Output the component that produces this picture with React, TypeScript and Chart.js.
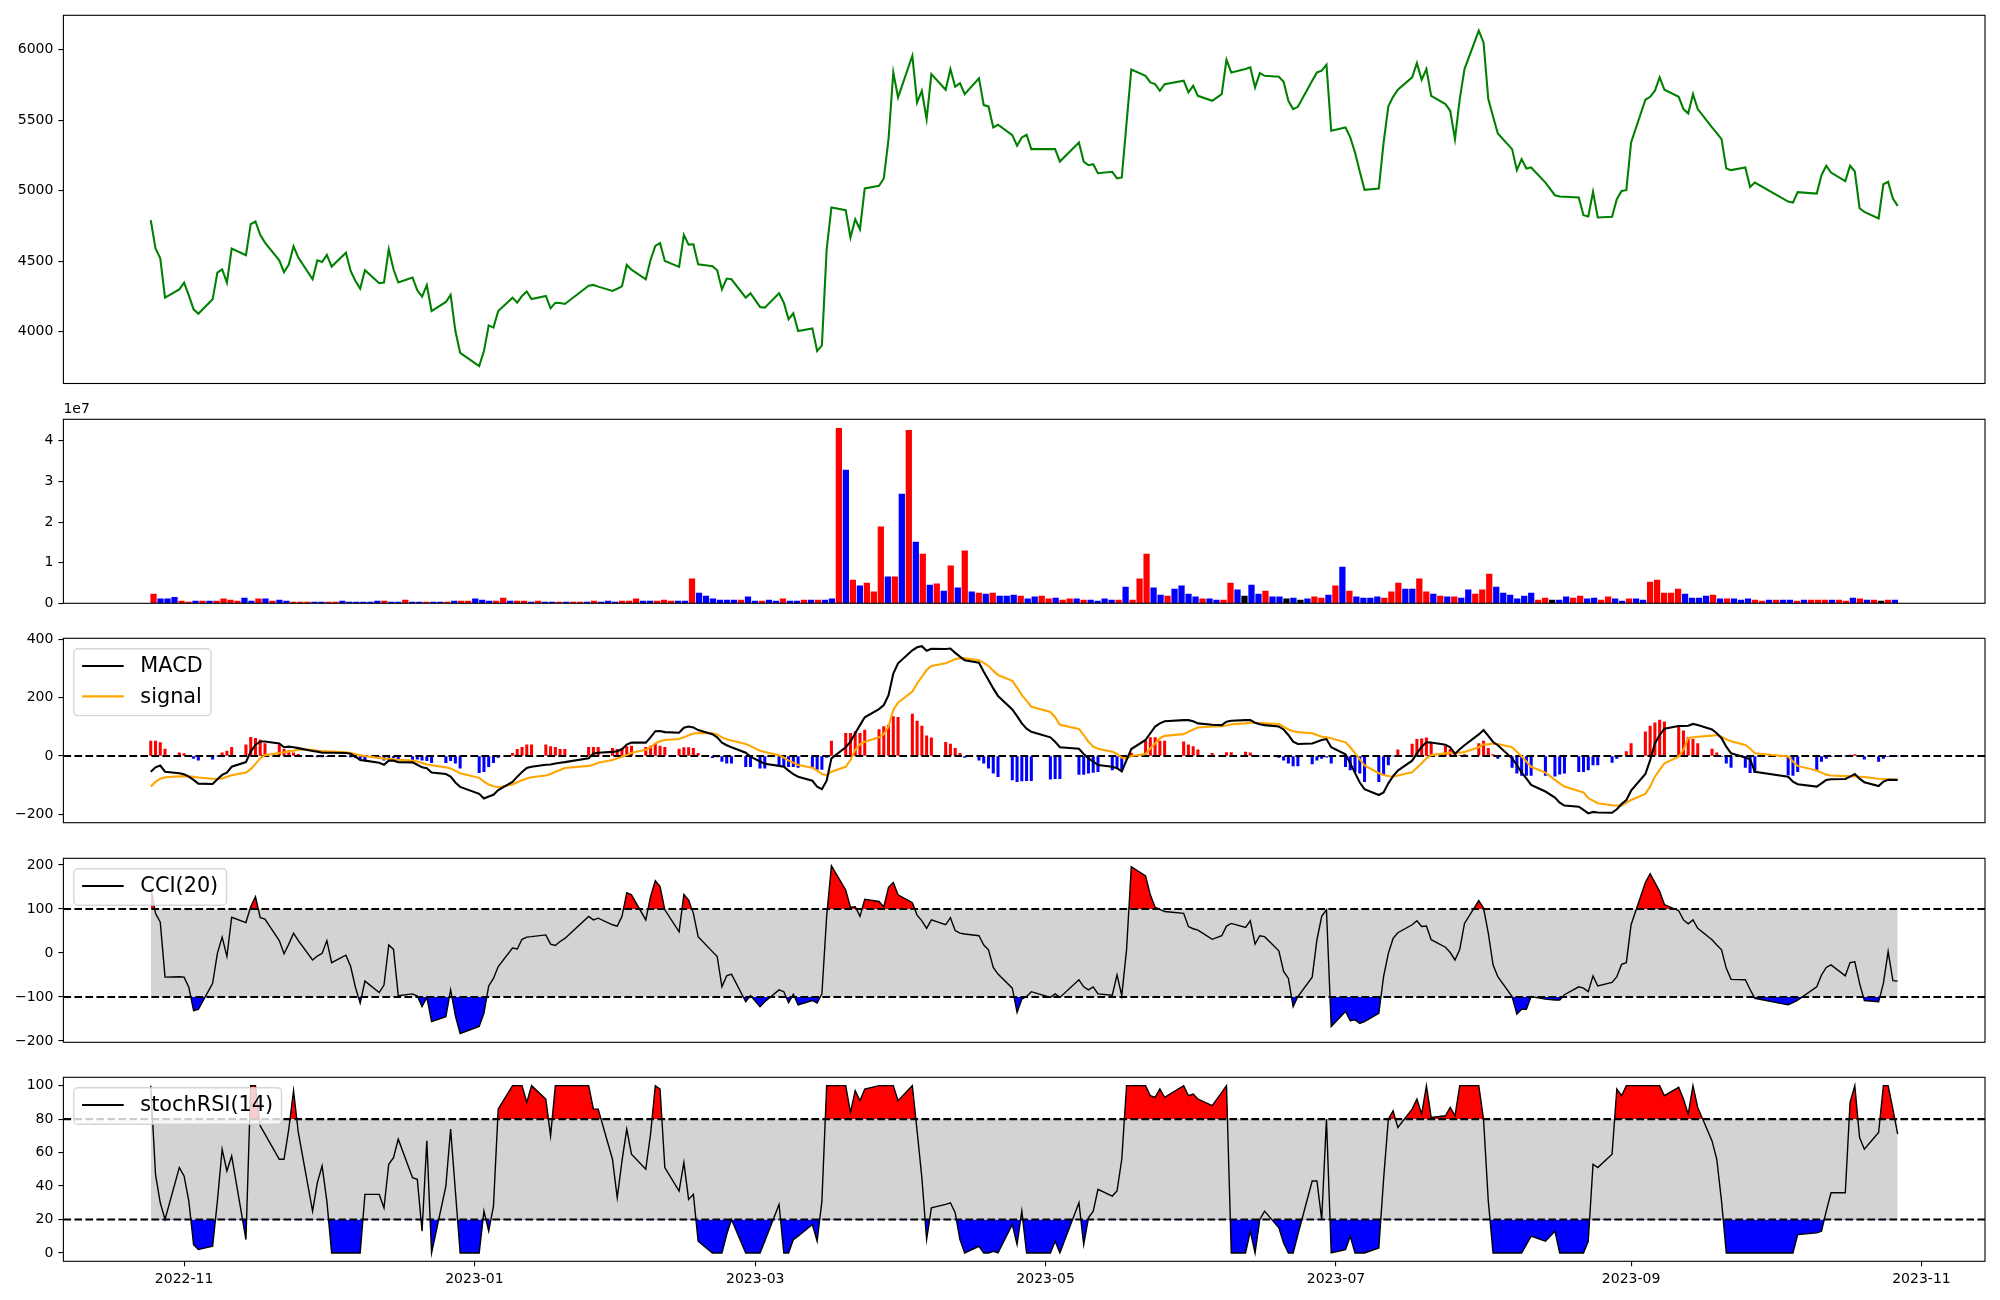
import React, { useEffect, useRef } from "react";
import { Chart, registerables } from "chart.js";

Chart.register(...registerables);

const FONT = "'DejaVu Sans', 'Liberation Sans', sans-serif";

// ---------------- DATA ----------------
const tradingDates: string[] = [
  "2022-10-25","2022-10-26","2022-10-27","2022-10-28","2022-10-31",
  "2022-11-01","2022-11-02","2022-11-03","2022-11-04","2022-11-07","2022-11-08","2022-11-09","2022-11-10","2022-11-11",
  "2022-11-14","2022-11-15","2022-11-16","2022-11-17","2022-11-18","2022-11-21","2022-11-22","2022-11-23","2022-11-24",
  "2022-11-25","2022-11-28","2022-11-29","2022-11-30",
  "2022-12-01","2022-12-02","2022-12-05","2022-12-06","2022-12-07","2022-12-08","2022-12-09","2022-12-12","2022-12-13",
  "2022-12-14","2022-12-15","2022-12-16","2022-12-19","2022-12-20","2022-12-21","2022-12-22","2022-12-23","2022-12-26",
  "2022-12-27","2022-12-28","2022-12-29",
  "2023-01-02","2023-01-03","2023-01-04","2023-01-05","2023-01-06","2023-01-09","2023-01-10","2023-01-11","2023-01-12",
  "2023-01-13","2023-01-16","2023-01-17","2023-01-18","2023-01-19","2023-01-20","2023-01-25","2023-01-26","2023-01-27",
  "2023-01-30","2023-01-31",
  "2023-02-01","2023-02-02","2023-02-03","2023-02-06","2023-02-07","2023-02-08","2023-02-09","2023-02-10","2023-02-13",
  "2023-02-14","2023-02-15","2023-02-16","2023-02-17","2023-02-20","2023-02-21","2023-02-22","2023-02-23","2023-02-24",
  "2023-02-27","2023-02-28",
  "2023-03-02","2023-03-03","2023-03-06","2023-03-07","2023-03-08","2023-03-09","2023-03-10","2023-03-13","2023-03-14",
  "2023-03-15","2023-03-16","2023-03-17","2023-03-20","2023-03-21","2023-03-22","2023-03-23","2023-03-24","2023-03-27",
  "2023-03-28","2023-03-29","2023-03-30","2023-03-31",
  "2023-04-03","2023-04-04","2023-04-05","2023-04-06","2023-04-07","2023-04-10","2023-04-11","2023-04-12","2023-04-13",
  "2023-04-14","2023-04-17","2023-04-18","2023-04-19","2023-04-20","2023-04-21","2023-04-24","2023-04-25","2023-04-26",
  "2023-04-27","2023-04-28",
  "2023-05-02","2023-05-03","2023-05-04","2023-05-08","2023-05-09","2023-05-10","2023-05-11","2023-05-12","2023-05-15",
  "2023-05-16","2023-05-17","2023-05-18","2023-05-19","2023-05-22","2023-05-23","2023-05-24","2023-05-25","2023-05-26",
  "2023-05-30","2023-05-31",
  "2023-06-01","2023-06-02","2023-06-05","2023-06-07","2023-06-08","2023-06-09","2023-06-12","2023-06-13","2023-06-14",
  "2023-06-15","2023-06-16","2023-06-19","2023-06-20","2023-06-21","2023-06-22","2023-06-23","2023-06-26","2023-06-27",
  "2023-06-28","2023-06-29","2023-06-30",
  "2023-07-03","2023-07-04","2023-07-05","2023-07-06","2023-07-07","2023-07-10","2023-07-11","2023-07-12","2023-07-13",
  "2023-07-14","2023-07-17","2023-07-18","2023-07-19","2023-07-20","2023-07-21","2023-07-24","2023-07-25","2023-07-26",
  "2023-07-27","2023-07-28","2023-07-31",
  "2023-08-01","2023-08-02","2023-08-03","2023-08-04","2023-08-07","2023-08-08","2023-08-09","2023-08-10","2023-08-11",
  "2023-08-14","2023-08-16","2023-08-17","2023-08-18","2023-08-21","2023-08-22","2023-08-23","2023-08-24","2023-08-25",
  "2023-08-28","2023-08-29","2023-08-30","2023-08-31",
  "2023-09-01","2023-09-04","2023-09-05","2023-09-06","2023-09-07","2023-09-08","2023-09-11","2023-09-12","2023-09-13",
  "2023-09-14","2023-09-15","2023-09-18","2023-09-19","2023-09-20","2023-09-21","2023-09-22","2023-09-25","2023-09-26",
  "2023-09-27",
  "2023-10-04","2023-10-05","2023-10-06","2023-10-10","2023-10-11","2023-10-12","2023-10-13","2023-10-16","2023-10-17",
  "2023-10-18","2023-10-19","2023-10-20","2023-10-23","2023-10-24","2023-10-25","2023-10-26","2023-10-27",
];

const closePrice: number[] = [
  4791, 4590, 4521, 4242, 4300, 4348, 4258, 4159, 4128, 4230,
  4420, 4443, 4348, 4590, 4542, 4763, 4782, 4687, 4632, 4507,
  4422, 4476, 4606, 4526, 4372, 4507, 4495, 4545, 4462, 4561,
  4431, 4360, 4306, 4436, 4344, 4349, 4585, 4443, 4349, 4384,
  4294, 4249, 4330, 4147, 4211, 4261, 4005, 3851, 3757, 3863,
  4045, 4029, 4147, 4242, 4206, 4254, 4285, 4232, 4254, 4166,
  4206, 4204, 4197, 4327, 4332, 4320, 4289, 4305, 4322, 4474,
  4440, 4372, 4509, 4609, 4628, 4502, 4460, 4687, 4618, 4620,
  4478, 4464, 4436, 4301, 4377, 4372, 4242, 4273, 4176, 4171,
  4273, 4206, 4088, 4131, 4005, 4024, 3863, 3903, 4585, 4881,
  4862, 4668, 4798, 4727, 5016, 5035, 5087, 5366, 5839, 5662,
  5957, 5626, 5709, 5508, 5827, 5716, 5863, 5737, 5763, 5685,
  5797, 5607, 5598, 5449, 5468, 5394, 5319, 5378, 5397, 5295,
  5295, 5295, 5207, 5342, 5207, 5181, 5188, 5124, 5134, 5087,
  5094, 5480, 5860, 5815, 5768, 5756, 5709, 5756, 5780, 5697,
  5744, 5673, 5638, 5685, 5929, 5839, 5863, 5875, 5733, 5834,
  5815, 5808, 5773, 5638, 5579, 5595, 5780, 5839, 5851, 5894,
  5425, 5449, 5378, 5271, 5136, 5006, 5016, 5340, 5598, 5666,
  5716, 5804, 5905, 5787, 5863, 5673, 5614, 5567, 5366, 5650,
  5863, 6135, 6052, 5650, 5527, 5406, 5295, 5146, 5224, 5158,
  5165, 5058, 4968, 4959, 4957, 4952, 4826, 4817, 4992, 4810,
  4815, 4940, 4999, 5004, 5342, 5645, 5666, 5709, 5804, 5716,
  5666, 5579, 5548, 5685, 5579, 5449, 5408, 5366, 5158, 5146,
  5165, 5027, 5058, 4923, 4916, 4990, 4980, 5110, 5177, 5129,
  5068, 5177, 5136, 4876, 4850, 4803, 5046, 5063, 4945, 4893,
];

// volume in millions of shares
const volumeMillions: number[] = [
  2.3, 1.07, 1.07, 1.5, 0.57, 0.33, 0.57, 0.57, 0.57, 0.57,
  1.07, 0.8, 0.57, 1.3, 0.57, 1.07, 1.07, 0.57, 0.8, 0.57,
  0.33, 0.33, 0.33, 0.33, 0.33, 0.33, 0.33, 0.57, 0.33, 0.33,
  0.33, 0.33, 0.57, 0.57, 0.33, 0.33, 0.8, 0.33, 0.33, 0.33,
  0.33, 0.33, 0.33, 0.57, 0.57, 0.57, 1.07, 0.8, 0.57, 0.57,
  1.3, 0.57, 0.57, 0.57, 0.33, 0.57, 0.33, 0.33, 0.33, 0.33,
  0.33, 0.33, 0.33, 0.57, 0.33, 0.57, 0.33, 0.57, 0.57, 1.07,
  0.57, 0.57, 0.57, 0.8, 0.57, 0.57, 0.57, 6.0, 2.5, 1.8,
  1.07, 0.8, 0.8, 0.8, 0.8, 1.6, 0.57, 0.57, 0.8, 0.57,
  1.07, 0.57, 0.57, 0.8, 0.8, 0.8, 0.8, 1.07, 43.1, 32.8,
  5.7, 4.3, 5.0, 2.8, 18.8, 6.5, 6.5, 26.9, 42.6, 15.1,
  12.1, 4.5, 4.8, 3.0, 9.2, 3.8, 12.9, 2.8, 2.5, 2.3,
  2.5, 1.8, 1.8, 2.0, 1.8, 1.07, 1.6, 1.8, 1.07, 1.3,
  0.8, 1.07, 1.07, 0.8, 0.8, 0.57, 1.07, 0.8, 0.8, 4.0,
  0.8, 6.0, 12.1, 3.8, 2.0, 1.8, 3.5, 4.3, 2.3, 1.6,
  1.07, 1.07, 0.8, 0.8, 5.0, 3.3, 1.8, 4.5, 2.3, 3.0,
  1.6, 1.6, 1.07, 1.3, 0.8, 1.07, 1.6, 1.3, 2.0, 4.3,
  8.9, 3.0, 1.6, 1.3, 1.3, 1.6, 1.3, 2.8, 5.0, 3.5,
  3.5, 6.0, 2.8, 2.3, 1.8, 1.6, 1.6, 1.3, 3.3, 2.3,
  3.3, 7.2, 4.0, 2.5, 2.0, 1.07, 1.8, 2.5, 0.8, 1.3,
  0.8, 0.8, 1.6, 1.3, 1.8, 1.07, 1.3, 0.8, 1.6, 1.07,
  0.57, 1.07, 1.07, 0.8, 5.2, 5.7, 2.5, 2.5, 3.5, 2.3,
  1.3, 1.3, 1.8, 2.0, 1.07, 1.07, 1.07, 0.8, 1.07, 0.8,
  0.57, 0.8, 0.8, 0.8, 0.8, 0.57, 0.8, 0.8, 0.8, 0.8,
  0.8, 0.8, 0.57, 1.3, 1.07, 0.8, 0.8, 0.57, 0.8, 0.8,
];

// R = red (up), B = blue (down), K = black (unchanged)
const volumeColorCodes =
  "RBBBRRBRBR" + "RRRBBRBRBB" + "RRRBBRRBBB" + "BBBRBBRBBR" + "BBRBRRBBBR" +
  "RBRRBRBBRB" + "RRBRBBBRRR" + "BBRRRBBRBB" + "BBBBRBBRBB" + "RBBRBRBBRB" +
  "RBRRRBRBRB" + "RBRBRBRBRB" + "RBBBRBBRRB" + "RRBRBBBBRB" + "RRRBBRBBBB" +
  "RBBRRBKBBR" + "BBKBKBRRBR" + "BRBBBBRRRB" + "BRRBRBRBBR" + "RRBBBBBBRR" +
  "KBBRRBBRRB" + "BRBBRRRRRB" + "BBBRBRBBBR" + "RBRBBRBRRR" + "BRRBRBRKRB";

const macdLine: number[] = [
  -54, -39, -33, -54, -59, -63, -71, -82, -95, -96,
  -80, -65, -57, -37, -21, 15, 38, 50, 50, 43,
  30, 32, 30, 27, 17, 15, 11, 11, 11, 10,
  8, -2, -14, -16, -23, -30, -16, -16, -21, -22,
  -30, -39, -42, -57, -62, -71, -91, -106, -130, -146,
  -139, -133, -117, -89, -71, -55, -41, -37, -30, -29,
  -26, -23, -21, -8, 9, 11, 14, 16, 23, 39,
  46, 46, 64, 85, 86, 82, 80, 97, 101, 98,
  89, 75, 64, 46, 37, 30, 11, -2, -19, -27,
  -34, -37, -50, -62, -71, -85, -105, -114, -85, -8,
  30, 49, 78, 106, 133, 161, 175, 209, 283, 318,
  363, 373, 377, 361, 368, 367, 369, 354, 341, 329,
  320, 289, 261, 232, 206, 160, 137, 112, 94, 83,
  64, 49, 30, 25, 7, -8, -19, -31, -37, -42,
  -53, -14, 24, 55, 78, 101, 112, 119, 123, 123,
  119, 112, 107, 106, 118, 121, 123, 123, 114, 109,
  106, 101, 91, 72, 49, 41, 43, 49, 55, 58,
  30, 6, -25, -58, -91, -114, -134, -125, -94, -69,
  -50, -16, 9, 32, 47, 46, 39, 30, 7, 23,
  37, 74, 89, 69, 48, 37, -8, -31, -57, -77,
  -99, -122, -143, -160, -170, -174, -185, -197, -192, -194,
  -195, -183, -165, -151, -119, -62, -14, 43, 72, 94,
  103, 103, 104, 110, 106, 91, 78, 61, 32, 9,
  -5, -11, -54, -71, -88, -97, -105, -94, -82, -80,
  -79, -71, -62, -78, -90, -103, -88, -82, -82, -82,
];

const signalLine: number[] = [
  -105, -89, -78, -73, -70, -69, -70, -71, -74, -78,
  -79, -77, -71, -66, -57, -45, -27, -8, 3, 10,
  13, 15, 18, 22, 21, 18, 17, 16, 15, 13,
  10, 7, 2, 0, -7, -9, -10, -11, -13, -16,
  -19, -24, -29, -32, -39, -43, -51, -59, -75, -88,
  -98, -104, -107, -98, -90, -83, -77, -73, -67, -62,
  -54, -48, -41, -34, -30, -23, -14, -9, -3, 3,
  11, 21, 30, 43, 51, 55, 58, 64, 71, 77,
  79, 78, 74, 64, 57, 53, 41, 34, 18, 14,
  3, -6, -16, -23, -31, -40, -50, -62, -66, -54,
  -37, -14, 21, 40, 49, 64, 75, 101, 158, 183,
  221, 249, 272, 295, 309, 318, 325, 333, 335, 335,
  329, 320, 309, 293, 278, 258, 235, 209, 190, 169,
  151, 133, 107, 93, 72, 49, 32, 25, 15, 7,
  -6, -8, 0, 7, 26, 43, 61, 69, 75, 83,
  91, 98, 101, 102, 105, 109, 112, 114, 114, 113,
  112, 110, 101, 91, 85, 82, 78, 72, 66, 64,
  61, 47, 30, 10, -12, -32, -59, -65, -69, -71,
  -67, -56, -40, -25, -8, 3, 9, 11, 11, 11,
  14, 30, 40, 40, 43, 41, 30, 15, -2, -19,
  -37, -57, -82, -94, -105, -120, -125, -145, -153, -162,
  -169, -170, -171, -160, -151, -130, -105, -71, -48, -25,
  -2, 21, 61, 64, 66, 70, 72, 66, 57, 51,
  38, 26, 9, -2, -19, -34, -50, -57, -64, -67,
  -69, -69, -70, -71, -72, -78, -79, -80, -81, -82,
];

const macdHist: number[] = [
  51, 51, 46, 24, 11, 8, -2, -8, -14, -11,
  0, 11, 17, 30, 38, 64, 61, 55, 43, 38,
  23, 18, 11, 6, -2, -3, -3, -2, -2, -2,
  -3, -6, -11, -14, -8, -14, -7, -6, -9, -14,
  -11, -14, -16, -23, -23, -16, -25, -42, -57, -54,
  -37, -23, -5, 9, 23, 30, 38, 38, 38, 32,
  30, 23, 23, 30, 30, 30, 26, 23, 26, 32,
  34, 30, 34, 41, 34, 30, 24, 29, 29, 26,
  9, -6, -3, -19, -25, -25, -37, -37, -42, -42,
  -34, -37, -37, -37, -39, -39, -46, -46, -5, 51,
  78, 78, 83, 78, 89, 91, 101, 106, 135, 133,
  144, 120, 103, 69, 62, 47, 41, 26, 9, -5,
  -14, -25, -42, -59, -71, -82, -88, -86, -85, -85,
  -80, -78, -78, -63, -63, -59, -56, -54, -48, -42,
  -46, -10, 10, 51, 63, 63, 51, 51, 49, 38,
  32, 21, 9, 2, 12, 12, 13, 11, 2, 0,
  -2, -5, -14, -25, -34, -34, -27, -14, -8, -4,
  -25, -37, -48, -54, -59, -88, -88, -65, -31, 0,
  21, 41, 57, 59, 62, 43, 35, 23, 6, 2,
  5, 43, 51, 26, 5, -8, -39, -59, -67, -67,
  -67, -67, -69, -62, -59, -54, -54, -48, -31, -31,
  -22, -8, 2, 15, 43, 83, 103, 114, 123, 117,
  101, 86, 64, 57, 43, 24, 11, -2, -25, -39,
  -39, -57, -57, -65, -67, -54, -51, -19, -8, -2,
  0, 3, 5, 0, -11, -19, -8, -2, 0, 0,
];

const cci20: number[] = [
  147, 90, 70, -55, -54, -55, -78, -131, -128, -69,
  -1, 36, -8, 81, 69, 105, 128, 80, 77, 28,
  -2, 20, 45, 28, -16, -7, -1, 28, -22, -5,
  -31, -78, -114, -64, -90, -73, 18, 8, -97, -93,
  -98, -122, -101, -156, -145, -84, -143, -183, -167, -137,
  -75, -58, -31, 11, 9, 31, 36, 37, 41, 20,
  17, 26, 33, 83, 75, 79, 64, 61, 83, 137,
  132, 75, 128, 164, 151, 98, 48, 133, 120, 90,
  37, 3, -8, -77, -52, -48, -111, -97, -122, -111,
  -84, -88, -113, -94, -118, -108, -114, -93, 83, 198,
  143, 104, 105, 83, 122, 117, 105, 149, 160, 132,
  114, 86, 73, 56, 75, 64, 80, 51, 45, 43,
  39, 18, 7, -33, -48, -80, -135, -105, -99, -88,
  -101, -93, -101, -61, -77, -84, -77, -93, -96, -50,
  -97, 7, 196, 175, 132, 104, 99, 94, 90, 60,
  55, 52, 31, 39, 61, 67, 58, 73, 20, 39,
  37, 5, -42, -58, -122, -99, -55, 30, 83, 98,
  -167, -133, -154, -152, -160, -156, -137, -54, -1, 33,
  46, 64, 73, 60, 61, 30, 13, 1, -16, 8,
  67, 119, 102, 45, -27, -54, -99, -139, -128, -128,
  -99, -105, -107, -107, -95, -77, -80, -88, -52, -75,
  -67, -54, -26, -22, 64, 160, 180, 160, 140, 110,
  96, 75, 66, 75, 56, 30, 18, 7, -35, -60,
  -61, -83, -103, -118, -113, -107, -77, -50, -33, -27,
  -52, -22, -20, -69, -108, -111, -69, 3, -63, -64,
];

const stochRsi14: number[] = [
  100, 47, 30, 20, 51, 46, 31, 5, 2, 4,
  31, 62, 49, 58, 8, 100, 100, 76, 71, 56,
  56, 74, 97, 72, 25, 42, 52, 31, 0, 0,
  0, 0, 0, 35, 35, 27, 53, 57, 68, 45,
  44, 13, 67, 0, 40, 74, 37, 0, 0, 25,
  13, 28, 86, 100, 100, 100, 90, 100, 92, 70,
  100, 100, 100, 100, 86, 86, 56, 33, 55, 74,
  59, 50, 71, 100, 98, 51, 37, 54, 32, 35,
  7, 0, 0, 0, 11, 20, 0, 0, 0, 7,
  29, 0, 0, 8, 10, 17, 7, 31, 100, 100,
  100, 84, 97, 91, 98, 100, 100, 100, 100, 91,
  100, 73, 45, 8, 27, 29, 30, 24, 8, 0,
  4, 0, 0, 1, 0, 17, 5, 25, 0, 0,
  0, 7, 0, 30, 5, 21, 25, 38, 34, 37,
  56, 100, 100, 100, 94, 93, 98, 93, 100, 94,
  95, 92, 88, 96, 100, 0, 0, 13, 0, 20,
  25, 15, 6, 0, 0, 11, 43, 43, 20, 80,
  0, 2, 10, 0, 0, 0, 3, 44, 80, 85,
  75, 86, 92, 83, 100, 81, 82, 87, 82, 100,
  100, 100, 80, 31, 0, 0, 0, 0, 0, 5,
  10, 7, 13, 0, 0, 0, 0, 7, 53, 51,
  59, 98, 94, 100, 100, 100, 100, 100, 100, 94,
  99, 92, 83, 100, 87, 67, 56, 31, 0, 0,
  0, 0, 0, 0, 0, 11, 12, 13, 25, 36,
  36, 90, 100, 69, 62, 72, 100, 100, 86, 71,
];

const priceTicks = [4000, 4500, 5000, 5500, 6000];
const volumeTicksMillions = [0, 10, 20, 30, 40];
const macdTicks = [-200, 0, 200, 400];
const cciTicks = [-200, -100, 0, 100, 200];
const stochTicks = [0, 20, 40, 60, 80, 100];
const monthTickDates = ["2022-11-01", "2023-01-01", "2023-03-01", "2023-05-01", "2023-07-01", "2023-09-01", "2023-11-01"];
const monthTickLabels = ["2022-11", "2023-01", "2023-03", "2023-05", "2023-07", "2023-09", "2023-11"];

const cciBands = { upper: 100, lower: -100 };
const stochBands = { upper: 80, lower: 20 };

// ---------------- LAYOUT / HELPERS ----------------
const FIG_W = 2000;
const AX_LEFT = 63.4;
const AX_RIGHT = 1985;
const X_AXIS_H = 34;
const PANEL_RECTS = {
  price: { top: 15.3, bottom: 383.5 },
  volume: { top: 419.3, bottom: 603.3 },
  macd: { top: 638.3, bottom: 822.7 },
  cci: { top: 858.3, bottom: 1042.3 },
  stoch: { top: 1077.3, bottom: 1261.3 },
};
const LW = 2.08; // 1.5pt
const THIN = 1.4;
const DASH = [7.7, 3.3];

const DAY0 = Date.UTC(2022, 10, 1);
function dayNumber(iso: string): number {
  const [y, m, d] = iso.split("-").map(Number);
  return Math.round((Date.UTC(y, m - 1, d) - DAY0) / 86400000);
}
const xDays = tradingDates.map(dayNumber);
const firstDay = xDays[0];
const lastDay = xDays[xDays.length - 1];
const span = lastDay - firstDay;
const X_MIN = firstDay - 0.05 * span;
const X_MAX = lastDay + 0.05 * span;
const monthTickDays = monthTickDates.map(dayNumber);

const VOL_X_MIN = -0.4 - 0.05 * (volumeMillions.length - 1 + 0.8);
const VOL_X_MAX = volumeMillions.length - 1 + 0.4 + 0.05 * (volumeMillions.length - 1 + 0.8);

const pts = (arr: number[]) => arr.map((v, i) => ({ x: xDays[i], y: v }));
const fmtNum = (v: number) => (v < 0 ? "\u2212" + Math.abs(v) : String(v));

const codeColor: Record<string, string> = { R: "#ff0000", B: "#0000ff", K: "#000000" };

function yScale(min: number, max: number, ticks: number[], fmt: (v: number) => string) {
  return {
    type: "linear",
    min,
    max,
    afterBuildTicks: (s: any) => {
      s.ticks = ticks.map((v) => ({ value: v }));
    },
    afterFit: (s: any) => {
      s.width = AX_LEFT;
    },
    grid: { display: true, drawOnChartArea: false, drawTicks: true, tickLength: 5, color: "#000", lineWidth: 1.1 },
    border: { display: false },
    ticks: {
      color: "#000",
      font: { family: FONT, size: 14 },
      padding: 5,
      autoSkip: false,
      callback: (v: number) => fmt(v),
    },
  };
}

function xHidden(min: number, max: number) {
  return { type: "linear", min, max, display: false, offset: false };
}

function xDateAxis() {
  return {
    type: "linear",
    min: X_MIN,
    max: X_MAX,
    offset: false,
    position: "bottom",
    afterBuildTicks: (s: any) => {
      s.ticks = monthTickDays.map((v) => ({ value: v }));
    },
    afterFit: (s: any) => {
      s.height = X_AXIS_H;
    },
    grid: { display: true, drawOnChartArea: false, drawTicks: true, tickLength: 5, color: "#000", lineWidth: 1.1 },
    border: { display: false },
    ticks: {
      color: "#000",
      font: { family: FONT, size: 14 },
      padding: 5,
      autoSkip: false,
      maxRotation: 0,
      minRotation: 0,
      callback: (_v: number, i: number) => monthTickLabels[i],
    },
  };
}

const framePlugin = {
  id: "mplFrame",
  afterDraw(chart: any) {
    const { ctx, chartArea } = chart;
    ctx.save();
    ctx.strokeStyle = "#000";
    ctx.lineWidth = 1.1;
    ctx.strokeRect(chartArea.left, chartArea.top, chartArea.right - chartArea.left, chartArea.bottom - chartArea.top);
    ctx.restore();
  },
};

const legendPlugin = {
  id: "mplLegend",
  afterDraw(chart: any, _args: any, opts: any) {
    if (!opts || !opts.items) return;
    const { ctx, chartArea } = chart;
    const fs = opts.fontSize || 20.8;
    const items = opts.items as { label: string; color: string; width: number }[];
    ctx.save();
    ctx.font = `${fs}px ${FONT}`;
    const borderPad = 0.4 * fs;
    const handleLen = 2 * fs;
    const handlePad = 0.8 * fs;
    const labelSp = 0.5 * fs;
    const axPad = 0.5 * fs;
    const rowH = 0.96 * fs;
    const textW = Math.max(...items.map((it) => ctx.measureText(it.label).width));
    const w = borderPad * 2 + handleLen + handlePad + textW;
    const h = borderPad * 2 + rowH * items.length + labelSp * (items.length - 1);
    const x = chartArea.left + axPad;
    const y = chartArea.top + axPad;
    const r = 0.2 * fs;
    ctx.beginPath();
    ctx.moveTo(x + r, y);
    ctx.lineTo(x + w - r, y);
    ctx.arcTo(x + w, y, x + w, y + r, r);
    ctx.lineTo(x + w, y + h - r);
    ctx.arcTo(x + w, y + h, x + w - r, y + h, r);
    ctx.lineTo(x + r, y + h);
    ctx.arcTo(x, y + h, x, y + h - r, r);
    ctx.lineTo(x, y + r);
    ctx.arcTo(x, y, x + r, y, r);
    ctx.closePath();
    ctx.fillStyle = "rgba(255,255,255,0.8)";
    ctx.fill();
    ctx.strokeStyle = "rgba(204,204,204,0.8)";
    ctx.lineWidth = 1.39;
    ctx.stroke();
    items.forEach((it, i) => {
      const cy = y + borderPad + i * (rowH + labelSp) + rowH / 2;
      ctx.beginPath();
      ctx.strokeStyle = it.color;
      ctx.lineWidth = it.width;
      ctx.moveTo(x + borderPad, cy - 1);
      ctx.lineTo(x + borderPad + handleLen, cy - 1);
      ctx.stroke();
      ctx.fillStyle = "#000";
      ctx.textBaseline = "middle";
      ctx.textAlign = "left";
      ctx.fillText(it.label, x + borderPad + handleLen + handlePad, cy);
    });
    ctx.restore();
  },
};

const offsetTextPlugin = {
  id: "offsetText",
  afterDraw(chart: any, _args: any, opts: any) {
    if (!opts || !opts.text) return;
    const { ctx, chartArea } = chart;
    ctx.save();
    ctx.font = `14px ${FONT}`;
    ctx.fillStyle = "#000";
    ctx.textBaseline = "bottom";
    ctx.textAlign = "left";
    ctx.fillText(opts.text, chartArea.left, chartArea.top - 3);
    ctx.restore();
  },
};

function hLine(value: number, order: number) {
  return {
    type: "line",
    data: [
      { x: X_MIN, y: value },
      { x: X_MAX, y: value },
    ],
    borderColor: "#000",
    borderWidth: LW,
    borderDash: DASH,
    pointRadius: 0,
    fill: false,
    order,
  };
}

function bandedDatasets(values: number[], upper: number, lower: number) {
  const data = pts(values);
  return [
    {
      type: "line",
      data,
      borderColor: "#000",
      borderWidth: THIN,
      pointRadius: 0,
      fill: false,
      order: 0,
    },
    hLine(upper, 1),
    hLine(lower, 2),
    {
      type: "line",
      data,
      borderColor: "rgba(0,0,0,0)",
      borderWidth: 0,
      backgroundColor: "#ff0000",
      pointRadius: 0,
      fill: { target: { value: upper }, above: "#ff0000", below: "rgba(0,0,0,0)" },
      order: 3,
    },
    {
      type: "line",
      data,
      borderColor: "rgba(0,0,0,0)",
      borderWidth: 0,
      backgroundColor: "#0000ff",
      pointRadius: 0,
      fill: { target: { value: lower }, above: "rgba(0,0,0,0)", below: "#0000ff" },
      order: 4,
    },
    {
      type: "line",
      data: [
        { x: firstDay, y: upper },
        { x: lastDay, y: upper },
      ],
      borderColor: "rgba(0,0,0,0)",
      borderWidth: 0,
      backgroundColor: "#d3d3d3",
      pointRadius: 0,
      fill: { target: { value: lower }, above: "#d3d3d3", below: "#d3d3d3" },
      order: 5,
    },
  ];
}

function baseOptions(padding: any, scales: any, pluginOpts: any) {
  return {
    responsive: false,
    animation: false,
    devicePixelRatio: 1,
    events: [],
    layout: { padding },
    scales,
    plugins: {
      legend: { display: false },
      tooltip: { enabled: false },
      title: { display: false },
      ...pluginOpts,
    },
  };
}

type Geo = { canvasTop: number; height: number; padding: any };
function geometry(rect: { top: number; bottom: number }, padTop: number, padBottom: number, axisH: number): Geo {
  const canvasTop = Math.floor(rect.top - padTop);
  const canvasBottom = Math.ceil(rect.bottom + axisH + padBottom);
  return {
    canvasTop,
    height: canvasBottom - canvasTop,
    padding: { top: rect.top - canvasTop, bottom: canvasBottom - rect.bottom - axisH, left: 0, right: FIG_W - AX_RIGHT },
  };
}

function ChartCanvas({ geo, makeConfig }: { geo: Geo; makeConfig: (g: Geo) => any }) {
  const ref = useRef<HTMLCanvasElement | null>(null);
  useEffect(() => {
    if (!ref.current) return;
    const chart = new Chart(ref.current, makeConfig(geo));
    return () => chart.destroy();
  }, []);
  return (
    <canvas
      ref={ref}
      width={FIG_W}
      height={geo.height}
      style={{ position: "absolute", left: 0, top: geo.canvasTop, width: FIG_W, height: geo.height, display: "block" }}
    />
  );
}

// ---------------- PANELS ----------------
// paddings are larger than the tick-label half-height + tick padding so Chart.js never shrinks the plot area
const priceGeo = geometry(PANEL_RECTS.price, 15, 18, 0);
const volumeGeo = geometry(PANEL_RECTS.volume, 30, 18, 0);
const macdGeo = geometry(PANEL_RECTS.macd, 18, 18, 0);
const cciGeo = geometry(PANEL_RECTS.cci, 18, 18, 0);
const stochGeo = geometry(PANEL_RECTS.stoch, 18, 6, X_AXIS_H);

const plotWidth = AX_RIGHT - AX_LEFT;

function priceConfig(g: Geo) {
  return {
    type: "line",
    data: {
      datasets: [
        { data: pts(closePrice), borderColor: "#008000", borderWidth: LW, pointRadius: 0, fill: false },
      ],
    },
    options: baseOptions(g.padding, { x: xHidden(X_MIN, X_MAX), y: yScale(3633, 6244, priceTicks, fmtNum) }, {}),
    plugins: [framePlugin],
  };
}

function volumeConfig(g: Geo) {
  const slot = plotWidth / (VOL_X_MAX - VOL_X_MIN);
  return {
    type: "bar",
    data: {
      datasets: [
        {
          data: volumeMillions.map((v, i) => ({ x: i, y: v })),
          backgroundColor: volumeMillions.map((_, i) => codeColor[volumeColorCodes[i]] || "#0000ff"),
          borderWidth: 0,
          barThickness: 0.8 * slot,
        },
      ],
    },
    options: baseOptions(
      g.padding,
      {
        x: xHidden(VOL_X_MIN, VOL_X_MAX),
        y: yScale(0, 45.3, volumeTicksMillions, (v) => String(v / 10)),
      },
      { offsetText: { text: "1e7" } }
    ),
    plugins: [framePlugin, offsetTextPlugin],
  };
}

function macdConfig(g: Geo) {
  const pxPerDay = plotWidth / (X_MAX - X_MIN);
  return {
    type: "line",
    data: {
      datasets: [
        { type: "line", data: pts(macdLine), borderColor: "#000", borderWidth: LW, pointRadius: 0, fill: false, order: 0 },
        { type: "line", data: pts(signalLine), borderColor: "#ffa500", borderWidth: LW, pointRadius: 0, fill: false, order: 1 },
        hLine(0, 2),
        {
          type: "bar",
          data: pts(macdHist),
          backgroundColor: macdHist.map((v) => (v > 0 ? "#ff0000" : "#0000ff")),
          borderWidth: 0,
          barThickness: 0.5 * pxPerDay,
          order: 3,
        },
      ],
    },
    options: baseOptions(
      g.padding,
      { x: xHidden(X_MIN, X_MAX), y: yScale(-229, 404, macdTicks, fmtNum) },
      {
        mplLegend: {
          fontSize: 20.8,
          items: [
            { label: "MACD", color: "#000", width: LW },
            { label: "signal", color: "#ffa500", width: LW },
          ],
        },
      }
    ),
    plugins: [framePlugin, legendPlugin],
  };
}

function cciConfig(g: Geo) {
  return {
    type: "line",
    data: { datasets: bandedDatasets(cci20, cciBands.upper, cciBands.lower) },
    options: baseOptions(
      g.padding,
      { x: xHidden(X_MIN, X_MAX), y: yScale(-203, 215, cciTicks, fmtNum) },
      { mplLegend: { fontSize: 20.8, items: [{ label: "CCI(20)", color: "#000", width: LW }] } }
    ),
    plugins: [framePlugin, legendPlugin],
  };
}

function stochConfig(g: Geo) {
  return {
    type: "line",
    data: { datasets: bandedDatasets(stochRsi14, stochBands.upper, stochBands.lower) },
    options: baseOptions(
      g.padding,
      { x: xDateAxis(), y: yScale(-5, 105, stochTicks, fmtNum) },
      { mplLegend: { fontSize: 20.8, items: [{ label: "stochRSI(14)", color: "#000", width: LW }] } }
    ),
    plugins: [framePlugin, legendPlugin],
  };
}

Chart.defaults.font.family = FONT;
Chart.defaults.color = "#000";

export default function App() {
  return (
    <div style={{ position: "absolute", left: 0, top: 0, width: 2000, height: 1300, background: "#fff", overflow: "hidden" }}>
      <ChartCanvas geo={priceGeo} makeConfig={priceConfig} />
      <ChartCanvas geo={volumeGeo} makeConfig={volumeConfig} />
      <ChartCanvas geo={macdGeo} makeConfig={macdConfig} />
      <ChartCanvas geo={cciGeo} makeConfig={cciConfig} />
      <ChartCanvas geo={stochGeo} makeConfig={stochConfig} />
    </div>
  );
}
